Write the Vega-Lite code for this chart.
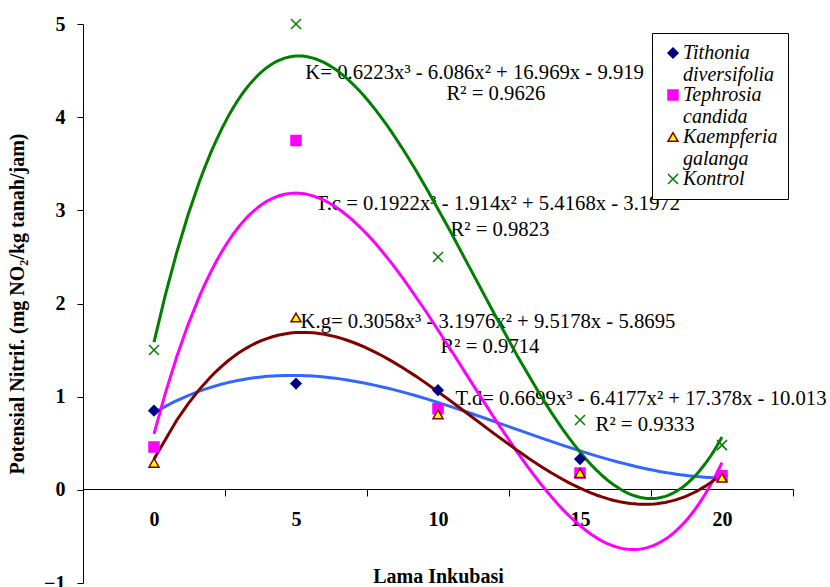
{
  "$schema": "https://vega.github.io/schema/vega-lite/v6.json",
  "width": 710,
  "height": 559,
  "autosize": {"type": "none"},
  "padding": {"left": 83, "top": 24, "right": 37, "bottom": 4},
  "background": "white",
  "config": {
    "view": {"stroke": null},
    "font": "Liberation Serif",
    "legend": {
      "labelFont": "Times New Roman",
      "labelFontStyle": "italic",
      "labelFontSize": 20,
      "labelColor": "#000000"
    }
  },
  "datasets": {
    "points": [
      {"series": "Tithonia diversifolia", "x": 0, "y": 0.85},
      {"series": "Tithonia diversifolia", "x": 5, "y": 1.14},
      {"series": "Tithonia diversifolia", "x": 10, "y": 1.07},
      {"series": "Tithonia diversifolia", "x": 15, "y": 0.33},
      {"series": "Tithonia diversifolia", "x": 20, "y": 0.15},
      {"series": "Tephrosia candida", "x": 0, "y": 0.46},
      {"series": "Tephrosia candida", "x": 5, "y": 3.75},
      {"series": "Tephrosia candida", "x": 10, "y": 0.87},
      {"series": "Tephrosia candida", "x": 15, "y": 0.18},
      {"series": "Tephrosia candida", "x": 20, "y": 0.15},
      {"series": "Kaempferia galanga", "x": 0, "y": 0.29},
      {"series": "Kaempferia galanga", "x": 5, "y": 1.85},
      {"series": "Kaempferia galanga", "x": 10, "y": 0.81},
      {"series": "Kaempferia galanga", "x": 15, "y": 0.18},
      {"series": "Kaempferia galanga", "x": 20, "y": 0.13},
      {"series": "Kontrol", "x": 0, "y": 1.5},
      {"series": "Kontrol", "x": 5, "y": 5.0},
      {"series": "Kontrol", "x": 10, "y": 2.5},
      {"series": "Kontrol", "x": 15, "y": 0.75},
      {"series": "Kontrol", "x": 20, "y": 0.48}
    ],
    "labels": [
      {"x": 5.33, "y": 4.413, "label": "K= 0.6223x³ - 6.086x² + 16.969x - 9.919"},
      {"x": 10.30, "y": 4.187, "label": "R² = 0.9626"},
      {"x": 5.69, "y": 3.008, "label": "T.c = 0.1922x³ - 1.914x² + 5.4168x - 3.1972"},
      {"x": 10.44, "y": 2.729, "label": "R² = 0.9823"},
      {"x": 5.16, "y": 1.741, "label": "K.g= 0.3058x³ - 3.1976x² + 9.5178x - 5.8695"},
      {"x": 10.09, "y": 1.473, "label": "R² = 0.9714"},
      {"x": 10.62, "y": 0.915, "label": "T.d= 0.6699x³ - 6.4177x² + 17.378x - 10.013"},
      {"x": 15.55, "y": 0.636, "label": "R² = 0.9333"}
    ]
  },
  "encoding": {
    "x": {
      "field": "x",
      "type": "quantitative",
      "scale": {"domain": [-2.5, 22.5], "nice": false, "zero": false},
      "axis": {
        "title": "Lama Inkubasi",
        "offset": -94,
        "values": [0, 2.5, 5, 7.5, 10, 12.5, 15, 17.5, 20, 22.5],
        "labelExpr": "datum.value % 5 === 0 ? datum.label : ''",
        "tickOpacity": {"condition": {"test": "datum.value % 5 !== 0", "value": 1}, "value": 0},
        "tickSize": 7,
        "grid": false,
        "domainColor": "#000000",
        "tickColor": "#000000",
        "labelFont": "Liberation Serif",
        "labelFontWeight": "bold",
        "labelFontSize": 20,
        "labelColor": "#000000",
        "labelPadding": 13,
        "labelFlush": false,
        "labelOverlap": false,
        "titleFont": "Liberation Serif",
        "titleFontSize": 20,
        "titleFontWeight": "bold",
        "titleColor": "#000000",
        "titlePadding": 37
      }
    },
    "y": {
      "field": "y",
      "type": "quantitative",
      "scale": {"domain": [-1, 5], "nice": false, "zero": false},
      "axis": {
        "title": "Potensial Nitrif. (mg NO₂/kg tanah/jam)",
        "values": [-1, 0, 1, 2, 3, 4, 5],
        "tickSize": 6,
        "grid": false,
        "domainColor": "#000000",
        "tickColor": "#000000",
        "labelFont": "Liberation Serif",
        "labelFontWeight": "bold",
        "labelFontSize": 20,
        "labelColor": "#000000",
        "labelPadding": 12,
        "labelFlush": false,
        "labelOverlap": false,
        "titleFont": "Liberation Serif",
        "titleFontSize": 20,
        "titleFontWeight": "bold",
        "titleColor": "#000000",
        "titlePadding": 16
      }
    }
  },
  "layer": [
    {
      "data": {"name": "labels"},
      "mark": {"type": "text", "align": "left", "baseline": "alphabetic", "font": "Liberation Serif", "fontSize": 20.7, "color": "#000000"},
      "encoding": {"text": {"field": "label", "type": "nominal"}}
    },
    {
      "data": {"name": "points"},
      "transform": [
        {"regression": "y", "on": "x", "groupby": ["series"], "method": "poly", "order": 3, "extent": [0, 20]}
      ],
      "mark": {"type": "line", "strokeWidth": 3},
      "encoding": {
        "color": {
          "field": "series",
          "type": "nominal",
          "scale": {
            "range": ["#800000", "#008000", "#FF00FF", "#3366FF"]
          },
          "legend": null
        }
      }
    },
    {
      "data": {"name": "points"},
      "mark": {"type": "point", "filled": true, "size": 100, "strokeWidth": 1.5, "opacity": 1},
      "encoding": {
        "shape": {
          "field": "series",
          "type": "nominal",
          "scale": {
            "domain": ["Tithonia diversifolia", "Tephrosia candida", "Kaempferia galanga", "Kontrol"],
            "range": ["diamond", "square", "triangle-up", "M-1,-1L1,1M-1,1L1,-1"]
          },
          "legend": {
            "orient": "none",
            "legendX": 569,
            "legendY": 9,
            "title": null,
            "strokeColor": "#000000",
            "fillColor": "white",
            "padding": 10,
            "labelFont": "Times New Roman",
            "labelFontStyle": "italic",
            "labelFontSize": 20,
            "labelColor": "#000000",
            "labelOffset": 0,
            "labelLimit": 300,
            "symbolSize": 100,
            "symbolStrokeWidth": 1.5,
            "symbolOpacity": 1,
            "symbolOffset": 1,
            "rowPadding": -4,
            "labelExpr": "datum.label === 'Kontrol' ? datum.label : split(datum.label, ' ')"
          }
        },
        "fill": {
          "field": "series",
          "type": "nominal",
          "scale": {
            "domain": ["Tithonia diversifolia", "Tephrosia candida", "Kaempferia galanga", "Kontrol"],
            "range": ["#000080", "#FF00FF", "#FFFF00", "transparent"]
          },
          "legend": {
            "orient": "none",
            "legendX": 569,
            "legendY": 9,
            "title": null,
            "labelFont": "Times New Roman",
            "labelFontStyle": "italic",
            "labelFontSize": 20
          }
        },
        "stroke": {
          "field": "series",
          "type": "nominal",
          "scale": {
            "domain": ["Tithonia diversifolia", "Tephrosia candida", "Kaempferia galanga", "Kontrol"],
            "range": ["#000080", "#FF00FF", "#800000", "#008000"]
          },
          "legend": {
            "orient": "none",
            "legendX": 569,
            "legendY": 9,
            "title": null,
            "labelFont": "Times New Roman",
            "labelFontStyle": "italic",
            "labelFontSize": 20
          }
        }
      }
    }
  ]
}
